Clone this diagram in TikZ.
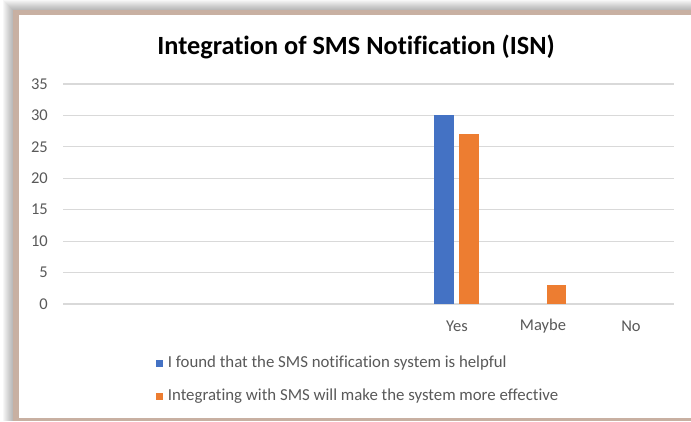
\documentclass[tikz,border=0pt]{standalone}
\usepackage{fontspec}
\setmainfont{Carlito}[Ligatures=NoCommon]
\usetikzlibrary{positioning}

\definecolor{barblue}{HTML}{4472C4}
\definecolor{barorange}{HTML}{ED7D31}
\definecolor{gridgray}{HTML}{D9D9D9}
\definecolor{labelgray}{HTML}{595959}
\definecolor{framebrown}{RGB}{200,176,162}

\tikzset{
  gridline/.style={gridgray, line width=1.2pt},
  ticklabel/.style={anchor=east, inner sep=0pt, text=labelgray, font=\fontsize{16.5}{19}\selectfont},
  catlabel/.style={inner sep=0pt, text=labelgray, font=\fontsize{16.5}{19}\selectfont},
  legendkey/.style={rectangle, inner sep=0pt, minimum size=7pt},
  legendtext/.style={right=5pt of #1, inner sep=0pt, text=labelgray, font=\fontsize{16.8}{19}\selectfont},
}

\begin{document}
\begin{tikzpicture}[x=1pt,y=-1pt]
\useasboundingbox (0,0) rectangle (691,421);
% soft shadow and frame
\foreach \i in {1,...,10}
  \fill[black, opacity=0.03] ({13-\i},{10-\i}) rectangle (691,421);
\fill[framebrown] (13,10) rectangle (691,421);
\fill[white] (19,15) rectangle (691,418);

% title
\node[font=\bfseries\fontsize{26.3}{30}\selectfont, inner sep=0pt] (title) at (356,47) {Integration of SMS Notification (ISN)};

% grid and axis values
\foreach \v in {0,5,...,35} {
  \draw[gridline] (63,{304-\v*6.286}) -- (674,{304-\v*6.286});
  \node[ticklabel] (tick\v) at (48,{304-\v*6.286}) {\v};
}

% bars
\fill[barblue] (434,304) rectangle (454,{304-30*6.286});
\fill[barorange] (459,304) rectangle (479,{304-27*6.286});
\fill[barorange] (547,304) rectangle (566,{304-3*6.286});

% categories
\node[catlabel] (yes) at (457,326) {Yes};
\node[catlabel] (maybe) at (543,326) {Maybe};
\node[catlabel] (no) at (631,326) {No};

% legend
\node[legendkey, fill=barblue] (key1) at (159,363) {};
\node[legendtext=key1] (leg1) {I found that the SMS notification system is helpful};
\node[legendkey, fill=barorange] (key2) at (159,396) {};
\node[legendtext=key2] (leg2) {Integrating with SMS will make the system more effective};
\end{tikzpicture}
\end{document}
